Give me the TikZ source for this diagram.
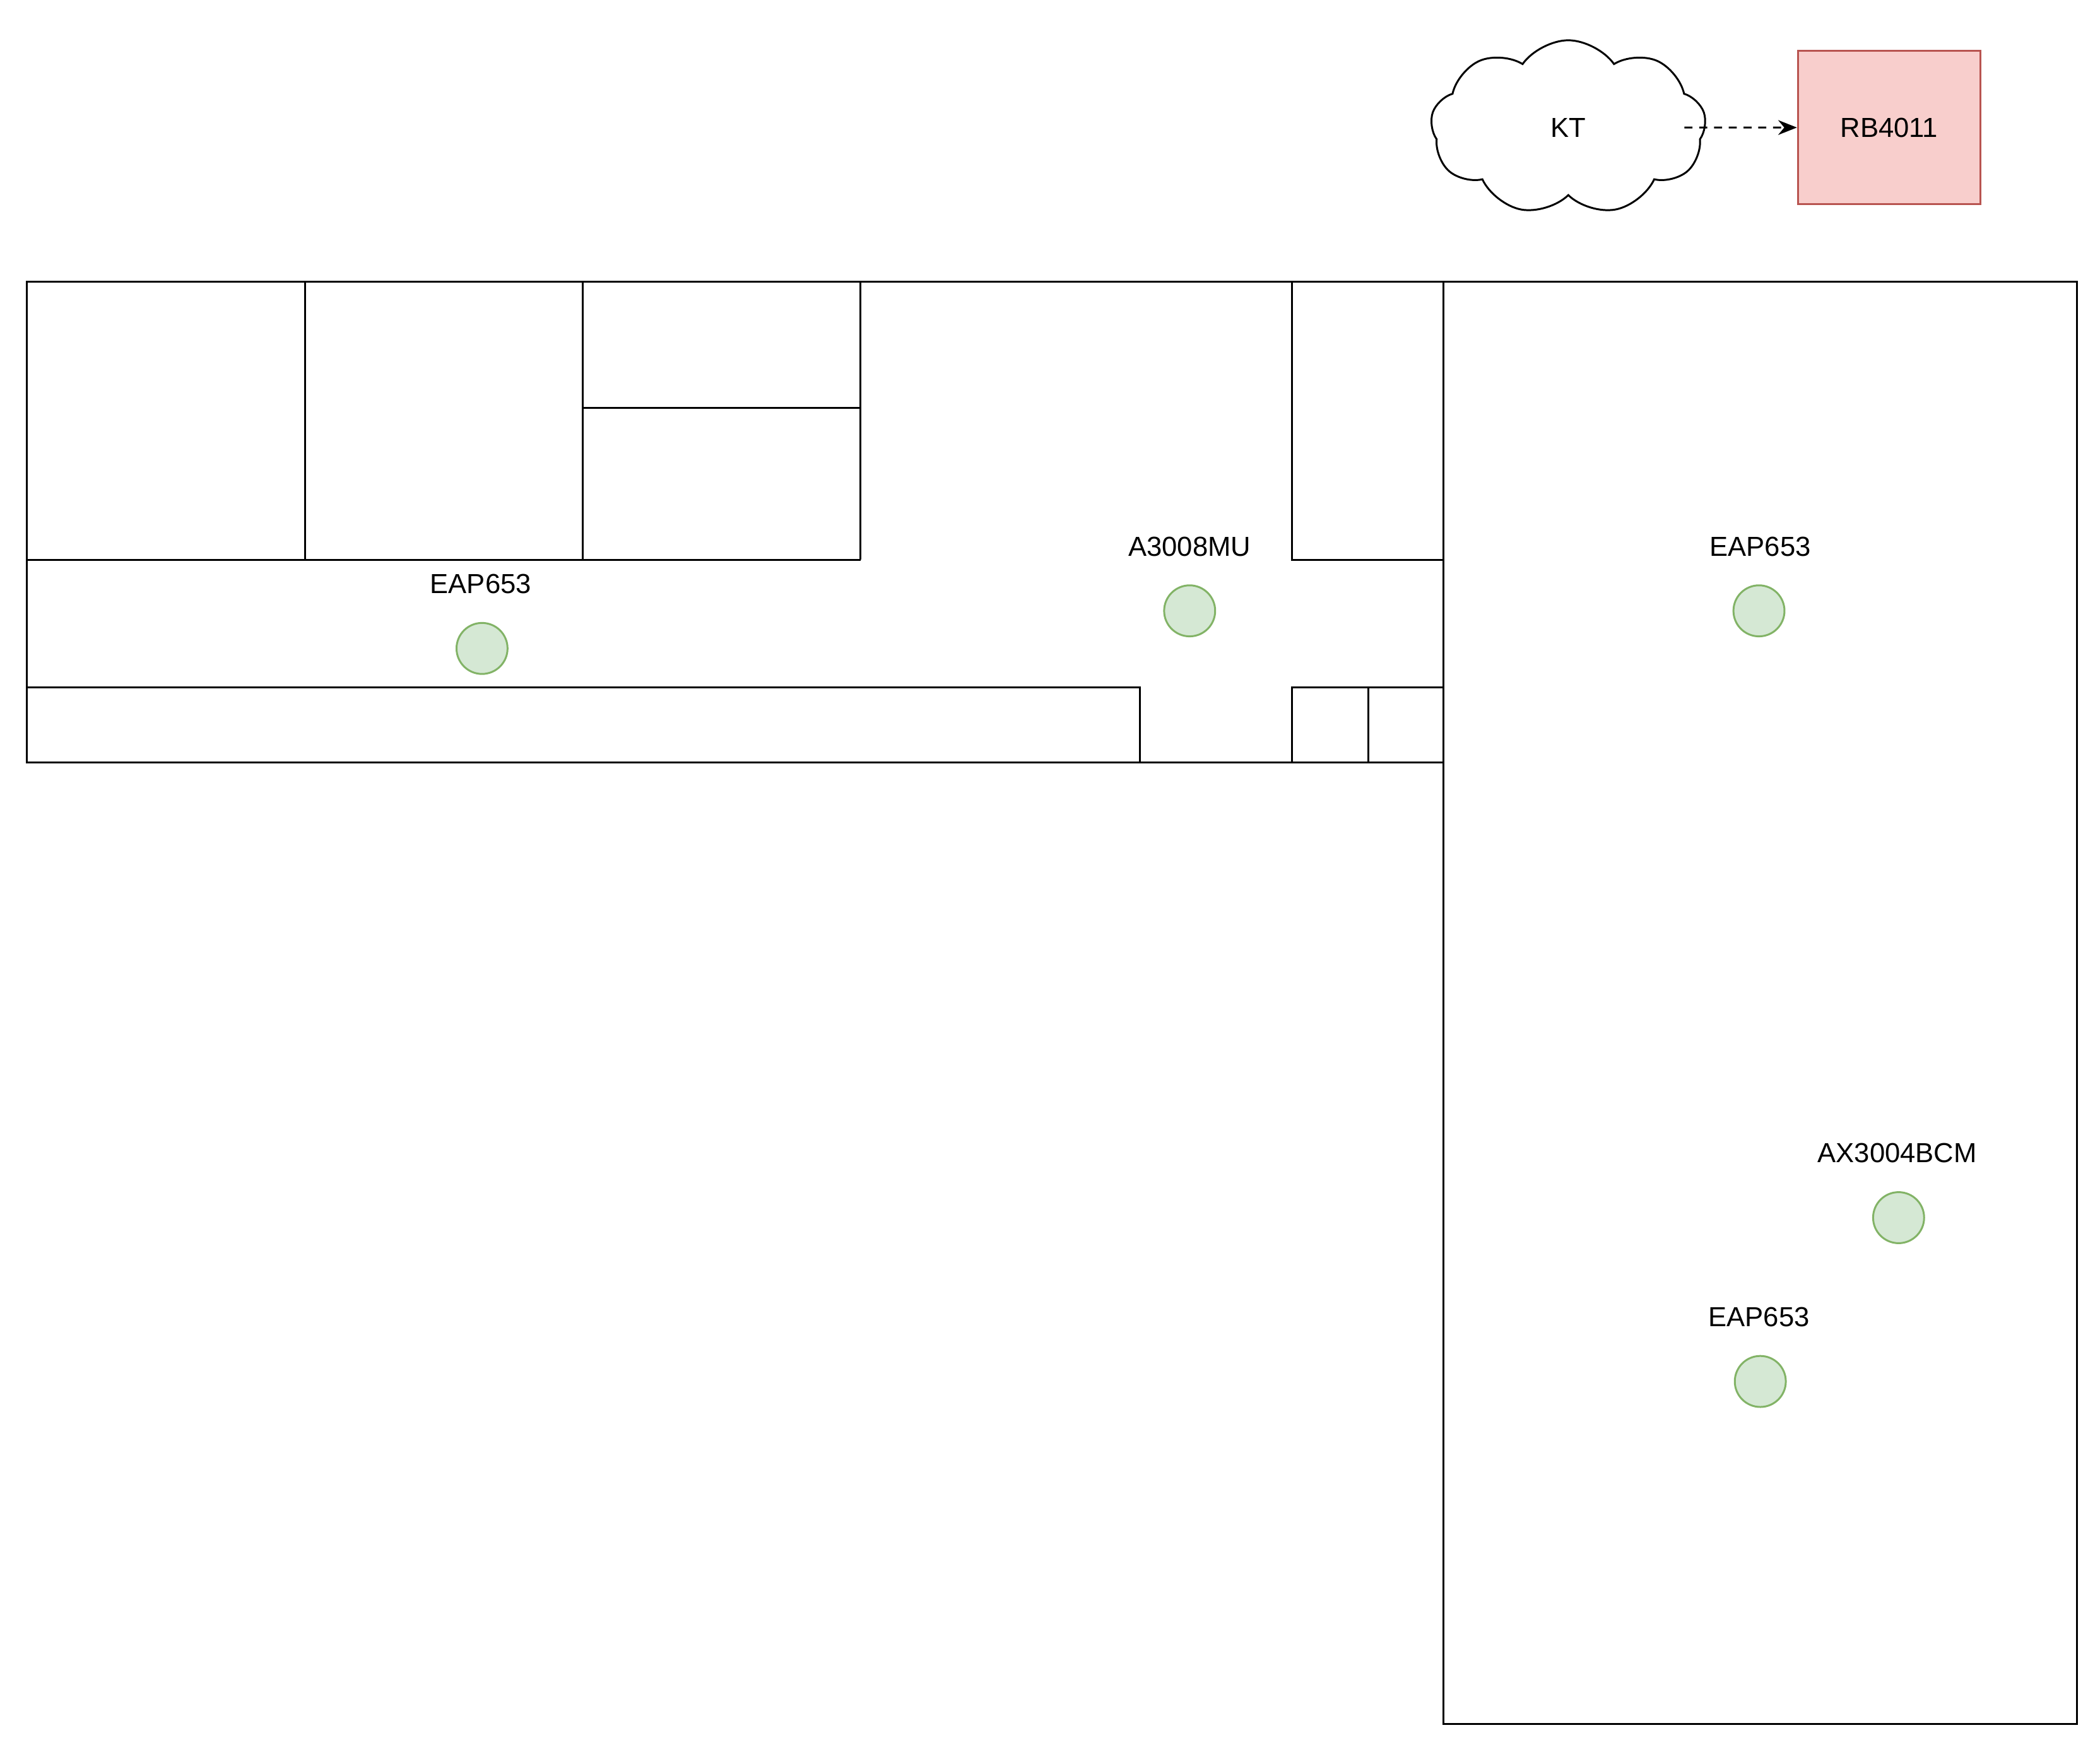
\documentclass[tikz,border=0pt]{standalone}
\usepackage{fontspec}
\setmainfont{Liberation Sans}
\usetikzlibrary{shapes.symbols,arrows.meta}
\definecolor{pinkf}{HTML}{F8CECC}\definecolor{pinkd}{HTML}{B85450}
\definecolor{greenf}{HTML}{D5E8D4}\definecolor{greend}{HTML}{82B366}
\begin{document}
\begin{tikzpicture}[x=1pt,y=-1pt,
  wall/.style={draw=black,line width=1.4pt},
  ap/.style={circle,draw=greend,fill=greenf,line width=1.4pt,minimum size=38pt,inner sep=0pt},
  lbl/.style={font=\fontsize{20.5}{24}\selectfont}]
\useasboundingbox (0,0) rectangle (1564,1301);
\node[cloud,cloud puffs=9,cloud puff arc=110,aspect=1.6,draw,line width=1.4pt,minimum width=205pt,minimum height=130pt,font=\fontsize{20.5}{24}\selectfont] (kt) at (1168,95) {KT};
\node[draw=pinkd,fill=pinkf,line width=1.4pt,minimum width=136pt,minimum height=114pt,font=\fontsize{20.5}{24}\selectfont] (rb) at (1407,95) {RB4011};
\draw[dash pattern=on 6pt off 5pt,line width=1.4pt,-{Stealth[length=14pt,width=11pt]}] ([xshift=-16pt]kt.east) -- (rb.west);
\draw[wall] (20,210) rectangle (1075,568);
\draw[wall] (1075,210) rectangle (1547,1284);
\draw[wall] (227,210) -- (227,417) (434,210) -- (434,417) (641,210) -- (641,417);
\draw[wall] (20,417) -- (641,417) (434,304) -- (641,304);
\draw[wall] (962,210) -- (962,417) -- (1075,417);
\draw[wall] (20,512) -- (849,512) -- (849,568);
\draw[wall] (962,568) -- (962,512) -- (1075,512) (1019,512) -- (1019,568);
\node[ap] (a1) at (359,483) {}; \node[lbl] at (358,435) {EAP653};
\node[ap] (a2) at (886,455) {}; \node[lbl] at (886,407) {A3008MU};
\node[ap] (a3) at (1310,455) {}; \node[lbl] at (1311,407) {EAP653};
\node[ap] (a4) at (1414,907) {}; \node[lbl] at (1413,859) {AX3004BCM};
\node[ap] (a5) at (1311,1029) {}; \node[lbl] at (1310,981) {EAP653};
\end{tikzpicture}
\end{document}
